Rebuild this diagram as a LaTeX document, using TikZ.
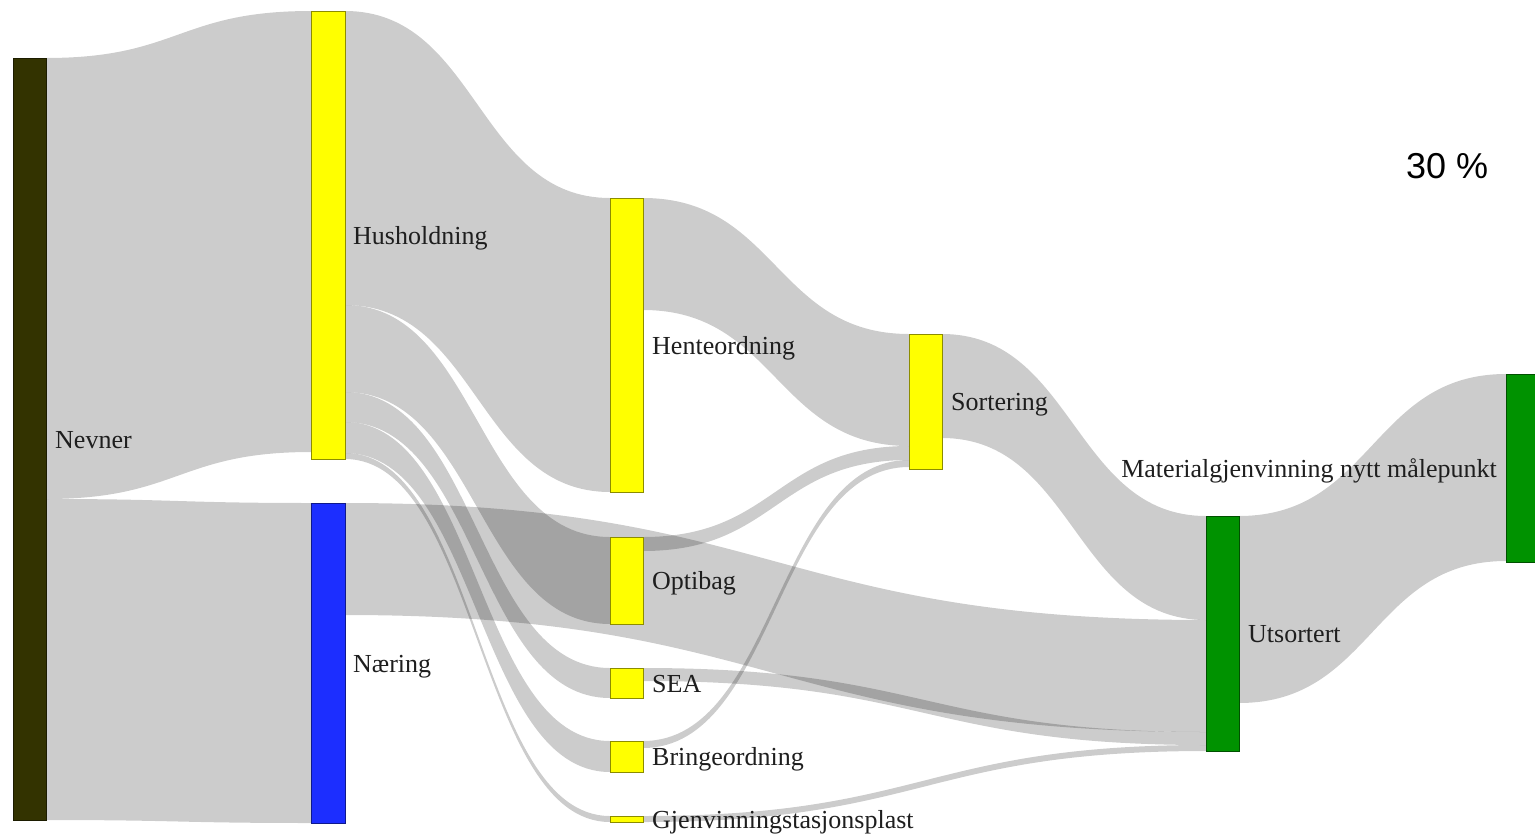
\documentclass[tikz,border=0pt]{standalone}
\usepackage{fontspec}
\setmainfont{Liberation Serif}
\newfontfamily\pctfont{Liberation Sans}
\usetikzlibrary{calc}

\definecolor{nevcol}{RGB}{51,51,0}
\definecolor{hhcol}{RGB}{255,255,0}
\definecolor{naercol}{RGB}{28,46,255}
\definecolor{utcol}{RGB}{0,146,0}
\definecolor{txt}{RGB}{30,30,30}

\pgfdeclarelayer{flows}
\pgfsetlayers{flows,main}

\tikzset{
  box/.style={draw=#1!55!black, fill=#1, line width=1pt, inner sep=0pt,
              outer sep=0pt, anchor=north west},
  lbl/.style={font=\fontsize{26}{30}\selectfont, text=txt, inner sep=0pt,
              anchor=base west},
  flow/.style={fill=black, fill opacity=0.2}
}

% \ribbon{source}{src top}{src bottom}{target}{tgt top}{tgt bottom}
% offsets are measured downwards from the top edge of each node
\newcommand\ribbon[6]{%
  \begin{pgfonlayer}{flows}
  \coordinate (rA) at ([yshift=-#2pt]#1.north east);
  \coordinate (rB) at ([yshift=-#3pt]#1.north east);
  \coordinate (rC) at ([yshift=-#5pt]#4.north west);
  \coordinate (rD) at ([yshift=-#6pt]#4.north west);
  \coordinate (rM) at ($(rA)!0.5!(rC)$);
  \fill[flow] (rA) .. controls (rM|-rA) and (rM|-rC) .. (rC)
     -- (rD) .. controls (rM|-rD) and (rM|-rB) .. (rB) -- cycle;
  \end{pgfonlayer}}

\begin{document}
\begin{tikzpicture}[x=1pt, y=-1pt]
\useasboundingbox (0,0) rectangle (1535,836);

% nodes
\node[box=nevcol,  minimum width=33pt, minimum height=762pt] (nev)    at (13,58)   {};
\node[box=hhcol,   minimum width=34pt, minimum height=448pt] (hush)   at (311,11)  {};
\node[box=naercol, minimum width=34pt, minimum height=320pt] (naer)   at (311,503) {};
\node[box=hhcol,   minimum width=33pt, minimum height=294pt] (hente)  at (610,198) {};
\node[box=hhcol,   minimum width=33pt, minimum height=87pt]  (opti)   at (610,537) {};
\node[box=hhcol,   minimum width=33pt, minimum height=30pt]  (sea)    at (610,668) {};
\node[box=hhcol,   minimum width=33pt, minimum height=31pt]  (bringe) at (610,741) {};
\node[box=hhcol,   minimum width=33pt, minimum height=6pt]   (gjen)   at (610,816) {};
\node[box=hhcol,   minimum width=33pt, minimum height=135pt] (sort)   at (909,334) {};
\node[box=utcol,   minimum width=33pt, minimum height=235pt] (utsort) at (1206,516) {};
\node[box=utcol,   minimum width=33pt, minimum height=188pt] (mat)    at (1506,374) {};

% flows
\ribbon{nev}{0}{441}{hush}{0}{441}
\ribbon{nev}{441}{762}{naer}{0}{320}
\ribbon{hush}{0}{294}{hente}{0}{294}
\ribbon{hush}{294}{381}{opti}{0}{87}
\ribbon{hush}{381}{411}{sea}{0}{30}
\ribbon{hush}{411}{442}{bringe}{0}{31}
\ribbon{hush}{442}{448}{gjen}{0}{6}
\ribbon{naer}{0}{112}{utsort}{104}{216}
\ribbon{hente}{0}{112}{sort}{0}{112}
\ribbon{opti}{0}{14}{sort}{112}{126}
\ribbon{bringe}{0}{7}{sort}{126}{133}
\ribbon{sea}{0}{13}{utsort}{216}{229}
\ribbon{gjen}{0}{6}{utsort}{229}{235}
\ribbon{sort}{0}{104}{utsort}{0}{104}
\ribbon{utsort}{0}{187}{mat}{0}{187}

% labels
\node[lbl] (nevL)    at ($(nev.east)+(9,9)$)    {Nevner};
\node[lbl] (hushL)   at ($(hush.east)+(8,9)$)   {Husholdning};
\node[lbl] (naerL)   at ($(naer.east)+(8,9)$)   {Næring};
\node[lbl] (henteL)  at ($(hente.east)+(9,9)$)  {Henteordning};
\node[lbl] (optiL)   at ($(opti.east)+(9,9)$)   {Optibag};
\node[lbl] (seaL)    at ($(sea.east)+(9,9)$)    {SEA};
\node[lbl] (bringeL) at ($(bringe.east)+(9,9)$) {Bringeordning};
\node[lbl] (gjenL)   at ($(gjen.east)+(9,9)$)   {Gjenvinningstasjonsplast};
\node[lbl] (sortL)   at ($(sort.east)+(9,9)$)   {Sortering};
\node[lbl] (utsortL) at ($(utsort.east)+(9,9)$) {Utsortert};
\node[lbl, anchor=base east] (matL) at ($(mat.west)+(-9,9)$)
  {Materialgjenvinning nytt målepunkt};

\node[font=\pctfont\fontsize{36}{40}\selectfont, anchor=base west, inner sep=0pt]
  (pct) at (1406,178) {30 \%};
\end{tikzpicture}
\end{document}
